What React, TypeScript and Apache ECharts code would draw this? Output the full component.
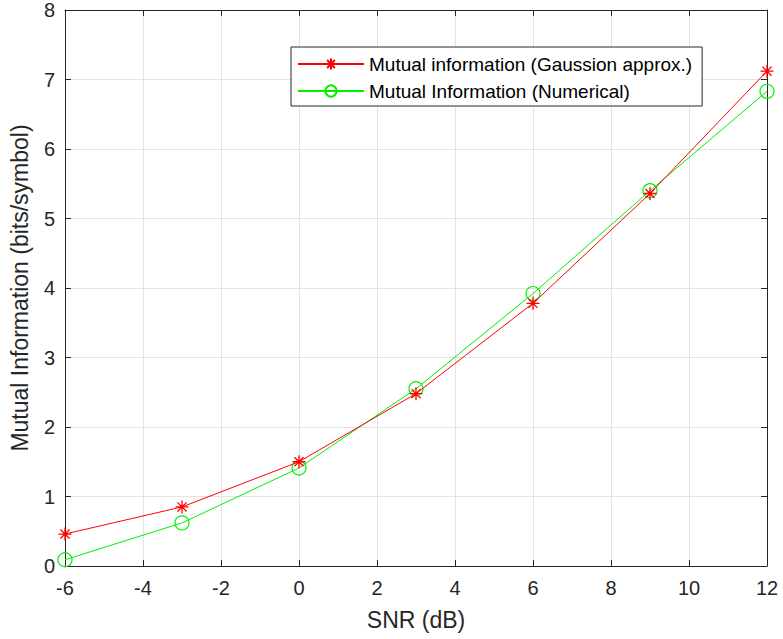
import React, { useEffect, useRef } from "react";
import * as echarts from "echarts";

const snrDb = [-6, -3, 0, 3, 6, 9, 12];
const gaussianApprox = [0.46, 0.85, 1.5, 2.48, 3.78, 5.36, 7.12];
const numericalMI = [0.09, 0.62, 1.41, 2.55, 3.92, 5.4, 6.83];
const seriesNames = ["Mutual information (Gaussion approx.)", "Mutual Information (Numerical)"];
const xAxisTitle = "SNR (dB)";
const yAxisTitle = "Mutual Information (bits/symbol)";

const FONT = "'Liberation Sans', Arial, sans-serif";
const AXIS_COLOR = "#262626";
const GRID_COLOR = "#e3e3e3";
const asterisk = "path://M5,0L5,10M0,5L10,5M1.5,1.5L8.5,8.5M1.5,8.5L8.5,1.5";

export default function App() {
  const ref = useRef<HTMLDivElement>(null);
  useEffect(() => {
    if (!ref.current) return;
    const chart = echarts.init(ref.current, undefined, { renderer: "svg" });
    const toPairs = (ys: number[]) => snrDb.map((x, i) => [x, ys[i]]);
    const axisCommon = {
      axisLine: { show: true, onZero: false, lineStyle: { color: AXIS_COLOR, width: 1 } },
      axisTick: { show: true, inside: true, length: 6, lineStyle: { color: AXIS_COLOR } },
    };
    chart.setOption({
      animation: false,
      backgroundColor: "#ffffff",
      textStyle: { fontFamily: FONT },
      grid: { left: 65, right: 16, top: 10, bottom: 73, containLabel: false },
      legend: {
        left: 291,
        top: 47,
        orient: "vertical",
        backgroundColor: "#ffffff",
        borderColor: AXIS_COLOR,
        borderWidth: 1,
        borderRadius: 0,
        padding: [6, 10, 4, 6],
        itemWidth: 66,
        itemHeight: 14,
        itemGap: 5,
        textStyle: { fontSize: 19, color: "#000000", fontFamily: FONT, lineHeight: 22 },
        data: seriesNames,
      },
      xAxis: [
        {
          type: "value",
          min: -6,
          max: 12,
          interval: 2,
          position: "bottom",
          name: xAxisTitle,
          nameLocation: "middle",
          nameGap: 42,
          nameTextStyle: { fontSize: 23, color: AXIS_COLOR, fontFamily: FONT },
          ...axisCommon,
          axisLabel: { fontSize: 20, color: AXIS_COLOR, margin: 12, fontFamily: FONT },
          splitLine: { show: true, lineStyle: { color: GRID_COLOR, width: 1 } },
        },
        {
          type: "value",
          min: -6,
          max: 12,
          interval: 2,
          position: "top",
          ...axisCommon,
          axisLabel: { show: false },
          splitLine: { show: false },
        },
      ],
      yAxis: [
        {
          type: "value",
          min: 0,
          max: 8,
          interval: 1,
          position: "left",
          name: yAxisTitle,
          nameLocation: "middle",
          nameGap: 34,
          nameTextStyle: { fontSize: 23, color: AXIS_COLOR, fontFamily: FONT },
          ...axisCommon,
          axisLabel: { fontSize: 20, color: AXIS_COLOR, margin: 10, fontFamily: FONT },
          splitLine: { show: true, lineStyle: { color: GRID_COLOR, width: 1 } },
        },
        {
          type: "value",
          min: 0,
          max: 8,
          interval: 1,
          position: "right",
          ...axisCommon,
          axisLabel: { show: false },
          splitLine: { show: false },
        },
      ],
      series: [
        {
          name: seriesNames[0],
          type: "line",
          data: toPairs(gaussianApprox),
          symbol: asterisk,
          symbolSize: 13,
          showAllSymbol: true,
          lineStyle: { color: "#ff0000", width: 1 },
          itemStyle: { color: "none", borderColor: "#ff0000", borderWidth: 1.3 },
          z: 3,
        },
        {
          name: seriesNames[1],
          type: "line",
          data: toPairs(numericalMI),
          symbol: "circle",
          symbolSize: 14,
          showAllSymbol: true,
          lineStyle: { color: "#00f000", width: 1 },
          itemStyle: { color: "none", borderColor: "#00f000", borderWidth: 1.2 },
          z: 2,
        },
      ],
    });
    return () => chart.dispose();
  }, []);
  return (
    <div
      ref={ref}
      style={{ position: "absolute", left: 0, top: 0, width: 783, height: 639 }}
    />
  );
}
